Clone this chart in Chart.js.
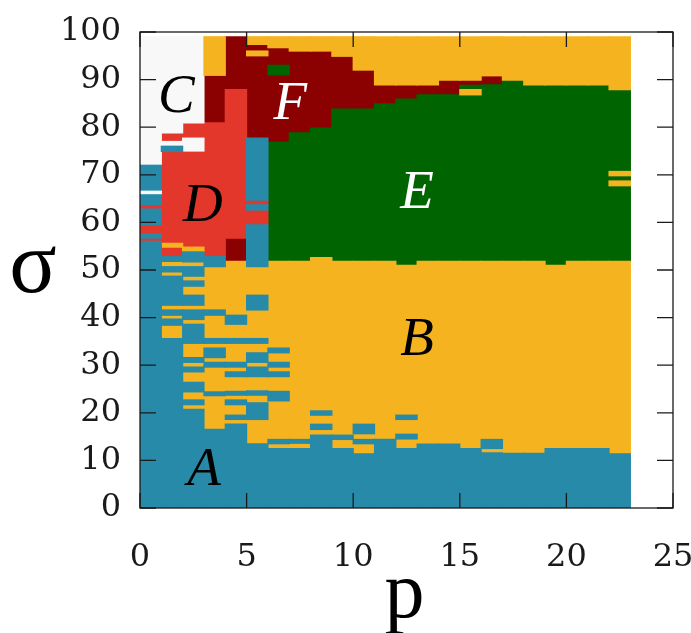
<!DOCTYPE html>
<html>
<head>
<meta charset="utf-8">
<script src="https://cdn.jsdelivr.net/npm/chart.js@4.4.1/dist/chart.umd.min.js"></script>
<style>
html, body { margin: 0; padding: 0; background: #fff; }
</style>
</head>
<body>
<canvas id="phase" width="691" height="633"></canvas>
<script>
// p columns: cell centres (cells are 1 wide, p = 0..23)
var pCenters = [0.5, 1.5, 2.5, 3.5, 4.5, 5.5, 6.5, 7.5, 8.5, 9.5, 10.5, 11.5,
                12.5, 13.5, 14.5, 15.5, 16.5, 17.5, 18.5, 19.5, 20.5, 21.5, 22.5];
var phaseNames = ['A', 'B', 'C', 'D', 'E', 'F'];
var xTicks = [0, 5, 10, 15, 20, 25];
var yTicks = [0, 10, 20, 30, 40, 50, 60, 70, 80, 90, 100];

// each column read bottom-up: [phase, upper sigma of the run]
var columnRuns = [
  [['A',56],['D',56.7],['A',57.6],['D',59.5],['A',62.8],['D',63.7],['A',65.8],['C',66.8],['A',72],['C',99]],
  [['A',35.6],['B',38.4],['A',39.7],['B',40.5],['A',41.6],['B',42.6],['A',48.7],['B',49.6],['A',50.7],['B',51.8],['A',52.8],['D',54.8],['B',55.6],['D',74.9],['A',76],['C',77],['D',78.8],['C',99]],
  [['A',20.7],['B',21.7],['A',22.7],['B',24.4],['A',26.4],['B',28.6],['A',29.6],['B',30.6],['A',31.6],['B',34.6],['A',38.6],['B',39.6],['A',41.6],['B',42.6],['A',44.7],['B',46.6],['A',47.7],['B',48.7],['A',50.7],['B',51.7],['A',53.8],['B',54.8],['D',75],['C',77.7],['D',80.9],['C',99]],
  [['A',16.5],['B',23.6],['A',24.4],['B',29.6],['A',30.6],['B',31.6],['A',33.6],['B',34.6],['A',35.6],['B',40.5],['A',41.6],['B',50.7],['A',52.8],['D',80.9],['F',90.9],['B',99]],
  [['A',17.6],['B',18.6],['A',19.5],['B',21.7],['A',22.7],['B',23.7],['A',24.5],['B',27.6],['A',28.6],['B',29.6],['A',30.6],['B',34.6],['A',35.6],['B',38.6],['A',40.5],['B',51.8],['F',56.7],['D',87.9],['F',99]],
  [['A',13.5],['B',18.6],['A',22.1],['B',23.7],['A',24.6],['B',27.6],['A',29.6],['B',30.6],['A',32.6],['B',34.6],['A',35.6],['B',41.6],['A',44.7],['B',50.7],['A',59.5],['D',62.6],['A',63.7],['D',64.7],['A',77.7],['F',95],['B',96],['F',97.4],['B',99]],
  [['A',12.5],['B',13.5],['A',14.4],['B',22.5],['A',24.5],['B',27.6],['A',28.6],['B',29.6],['A',30.6],['B',32.6],['A',33.6],['B',51.8],['E',76.8],['F',91],['E',93],['F',96.7],['B',99]],
  [['A',12.5],['B',13.6],['A',14.4],['B',51.8],['E',78.8],['F',96],['B',99]],
  [['A',15.3],['B',16.5],['A',17.6],['B',19.5],['A',20.4],['B',52.6],['E',79.8],['F',96],['B',99]],
  [['A',12.5],['B',14.4],['A',15.3],['B',51.8],['E',83.8],['F',94.9],['B',99]],
  [['A',11.4],['B',13.5],['A',14.4],['B',15.6],['A',17.6],['B',51.8],['E',83.8],['F',92],['B',99]],
  [['A',14.4],['B',51.8],['E',84.9],['F',88.9],['B',99]],
  [['A',12.5],['B',14.5],['A',15.5],['B',18.6],['A',19.5],['B',51],['E',85.9],['F',88.9],['B',99]],
  [['A',13.4],['B',51.8],['E',86.8],['F',88.9],['B',99]],
  [['A',13.4],['B',51.8],['E',86.8],['F',89.9],['B',99]],
  [['A',12.5],['B',51.8],['E',86.8],['B',87.9],['E',88.8],['F',89.9],['B',99]],
  [['A',11.6],['B',12.5],['A',14.4],['B',51.8],['E',88.9],['F',90.8],['B',99]],
  [['A',11.5],['B',51.8],['E',89.9],['B',99]],
  [['A',11.5],['B',51.8],['E',88.9],['B',99]],
  [['A',12.5],['B',51],['E',88.9],['B',99]],
  [['A',12.5],['B',51.8],['E',88.9],['B',99]],
  [['A',12.5],['B',51.8],['E',88.9],['B',99]],
  [['A',11.4],['B',51.8],['E',67.7],['B',68.7],['E',69.8],['B',70.7],['E',87.9],['B',99]]
];

// region letters: [text, p, sigma]
var regionLabels = [['A', 3.0, 8.6], ['B', 13.0, 35.9], ['C', 1.7, 86.9],
                    ['D', 2.95, 64.1], ['E', 13.0, 66.8], ['F', 7.05, 85.4]];

var phaseColors = {A: '#268aa8', B: '#f5b41f', C: '#f8f8f8', D: '#e3372b', E: '#006400', F: '#8b0000'};
var labelColors = {A: '#000', B: '#000', C: '#000', D: '#000', E: '#fff', F: '#fff'};

var datasets = phaseNames.map(function(ph){
    var pts = [];
    columnRuns.forEach(function(runs, i){
        var lo = 0;
        runs.forEach(function(r){
            if(r[0] === ph) pts.push({x: pCenters[i], y: [lo, r[1]]});
            lo = r[1];
        });
    });
    return {
        label: ph,
        data: pts,
        backgroundColor: phaseColors[ph],
        borderWidth: 0,
        inflateAmount: 0.6,
        grouped: false,
        categoryPercentage: 1.0,
        barPercentage: 1.0
    };
});

var framePlugin = {
    id: 'frame',
    afterDatasetsDraw: function(chart){
        var a = chart.chartArea, ctx = chart.ctx;
        var xs = chart.scales.x, ys = chart.scales.y;
        ctx.save();
        ctx.strokeStyle = '#1a1a1a';
        ctx.lineWidth = 1.3;
        ctx.beginPath();
        xTicks.forEach(function(v){
            var px = xs.getPixelForValue(v);
            ctx.moveTo(px, a.bottom); ctx.lineTo(px, a.bottom - 15);
            ctx.moveTo(px, a.top); ctx.lineTo(px, a.top + 15);
        });
        yTicks.forEach(function(v){
            var py = ys.getPixelForValue(v);
            ctx.moveTo(a.left, py); ctx.lineTo(a.left + 16, py);
            ctx.moveTo(a.right, py); ctx.lineTo(a.right - 16, py);
        });
        ctx.stroke();
        ctx.strokeRect(a.left, a.top, a.right - a.left, a.bottom - a.top);

        // region letters
        ctx.font = 'italic 55px "Liberation Serif"';
        ctx.textAlign = 'center';
        ctx.textBaseline = 'alphabetic';
        regionLabels.forEach(function(l){
            ctx.fillStyle = labelColors[l[0]];
            ctx.fillText(l[0], xs.getPixelForValue(l[1]), ys.getPixelForValue(l[2]) + 18);
        });

        // axis titles
        ctx.fillStyle = '#000';
        ctx.font = '88px "Liberation Serif"';
        ctx.fillText('\u03c3', 33, 292);
        ctx.font = '80px "Liberation Serif"';
        ctx.fillText('p', (a.left + a.right) / 2 - 2, 617);
        ctx.restore();
    }
};

var tickFont = {family: '"DejaVu Serif"', size: 32};

new Chart(document.getElementById('phase').getContext('2d'), {
    type: 'bar',
    data: {datasets: datasets},
    options: {
        responsive: false,
        animation: false,
        layout: {padding: {top: 32, right: 18, left: 0, bottom: 0}},
        plugins: {legend: {display: false}, tooltip: {enabled: false}},
        scales: {
            x: {
                type: 'linear', min: 0, max: 25, offset: false,
                grid: {display: false, drawTicks: false, offset: false},
                border: {display: false},
                ticks: {stepSize: 5, padding: 30, color: '#1a1a1a', font: tickFont, maxRotation: 0},
                afterFit: function(s){ s.height = 125; s.paddingLeft = 0; s.paddingRight = 0; }
            },
            y: {
                type: 'linear', min: 0, max: 100,
                grid: {display: false, drawTicks: false},
                border: {display: false},
                ticks: {stepSize: 10, padding: 19, color: '#1a1a1a', font: tickFont},
                afterFit: function(s){ s.width = 140; s.paddingTop = 0; s.paddingBottom = 0; }
            }
        }
    },
    plugins: [framePlugin]
});
</script>
</body>
</html>
